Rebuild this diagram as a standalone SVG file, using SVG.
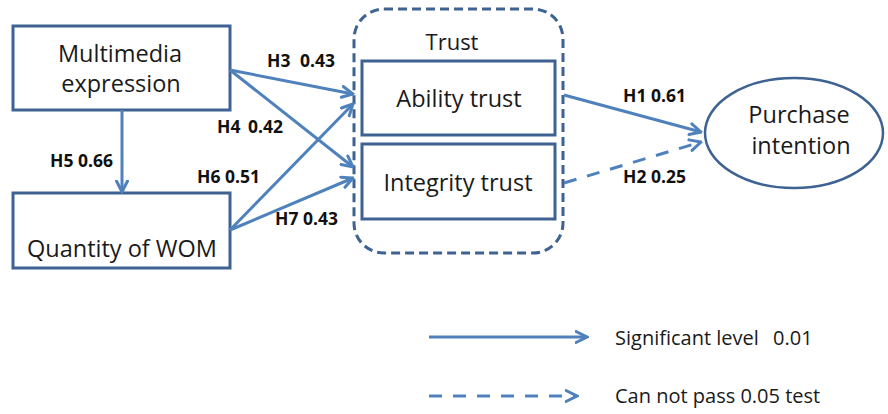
<svg xmlns="http://www.w3.org/2000/svg" width="888" height="414" viewBox="0 0 888 414">
<style>
.box{fill:#fff;stroke:#3E6291;stroke-width:3}
.t{font-family:"Open Sans","Liberation Sans",sans-serif;font-size:23.5px;fill:#1a1a1a;text-anchor:middle}
.lt{font-family:"Open Sans","Liberation Sans",sans-serif;font-size:20px;fill:#1a1a1a}
.lb{font-family:"Open Sans","Liberation Sans",sans-serif;font-size:17.5px;font-weight:bold;fill:#111}
.c{fill:none;stroke:#4F81BD;stroke-width:3;marker-end:url(#ah)}
.d{stroke-dasharray:13 11}
</style>
<defs>
<marker id="ah" markerUnits="userSpaceOnUse" viewBox="0 0 14 14" refX="12.5" refY="7" markerWidth="14" markerHeight="14" orient="auto">
<path d="M1.5,1.5 L12.5,7 L1.5,12.5" fill="none" stroke="#4F81BD" stroke-width="3" stroke-dasharray="none" stroke-linecap="round" stroke-linejoin="miter"/>
</marker>
</defs>
<rect width="888" height="414" fill="#fff"/>
<g id="trust">
<rect x="354" y="9" width="209" height="244" rx="30" ry="30" fill="none" stroke="#3E6291" stroke-width="3" stroke-dasharray="9 5"/>
<text class="t" x="452" y="50" style="font-size:22px">Trust</text>
</g>
<g id="multimedia">
<rect class="box" x="13" y="26" width="217" height="84"/>
<text class="t" x="120" y="62">Multimedia</text>
<text class="t" x="121" y="92">expression</text>
</g>
<g id="quantity">
<rect class="box" x="13" y="193" width="217" height="75"/>
<text class="t" x="122" y="257">Quantity of WOM</text>
</g>
<g id="ability">
<rect class="box" x="362" y="61" width="193" height="74"/>
<text class="t" x="459" y="107">Ability trust</text>
</g>
<g id="integrity">
<rect class="box" x="362" y="144" width="193" height="75"/>
<text class="t" x="458" y="191">Integrity trust</text>
</g>
<g id="purchase">
<ellipse cx="794" cy="133" rx="89" ry="55" fill="#fff" stroke="#3E6291" stroke-width="2.5"/>
<text class="t" x="799" y="123">Purchase</text>
<text class="t" x="801" y="154">intention</text>
</g>
<g id="connectors">
<path class="c" d="M122,110 L122,192"/>
<path class="c" d="M230,70 L353,94"/>
<path class="c" d="M230,70 L353,167"/>
<path class="c" d="M230,230 L353,104"/>
<path class="c" d="M230,230 L353,178"/>
<path class="c" d="M564,95 L701,132"/>
<path class="c d" d="M564,183 L701,142"/>
</g>
<g id="labels">
<text class="lb" x="267" y="67">H3<tspan x="300">0.43</tspan></text>
<text class="lb" x="217" y="133">H4<tspan x="248">0.42</tspan></text>
<text class="lb" x="50" y="167">H5 0.66</text>
<text class="lb" x="197" y="183">H6 0.51</text>
<text class="lb" x="275" y="225">H7 0.43</text>
<text class="lb" x="623" y="102">H1 0.61</text>
<text class="lb" x="623" y="183">H2 0.25</text>
</g>
<g id="legend">
<path class="c" d="M429,337 L587,337"/>
<path class="c d" d="M429,396 L577,396"/>
<text class="lt" x="615" y="345">Significant level<tspan x="773">0.01</tspan></text>
<text class="lt" x="615" y="403">Can not pass 0.05 test</text>
</g>
</svg>
